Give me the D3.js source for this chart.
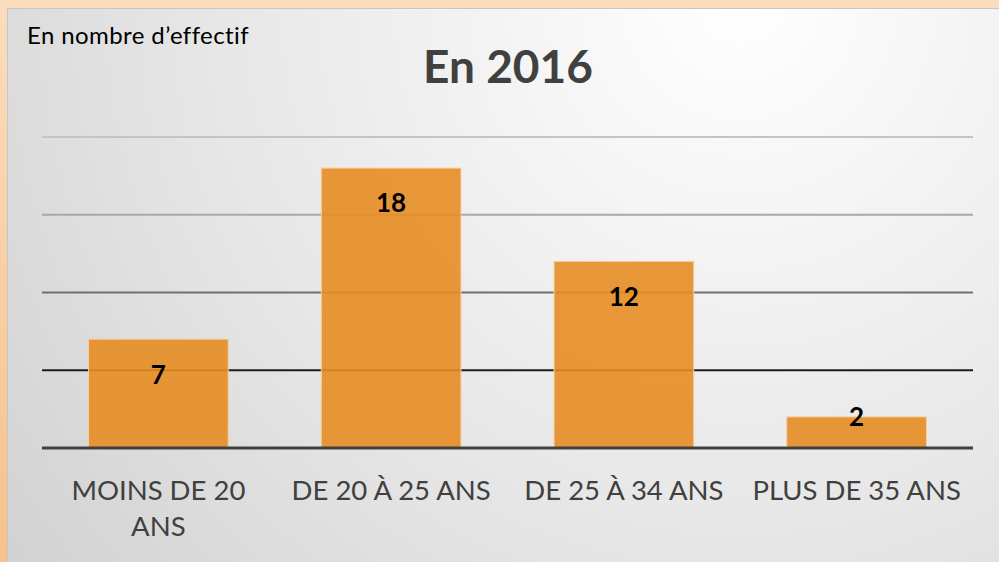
<!DOCTYPE html>
<html lang="fr">
<head>
<meta charset="utf-8">
<style>
  body { margin: 0; background: #fbdcbd; }
  svg { display: block; font-family: Lato, "Open Sans", sans-serif; font-variant-ligatures: none; }
</style>
</head>
<body>
<svg width="999" height="562"></svg>
<script src="https://cdn.jsdelivr.net/npm/d3@7"></script>
<script>
// data
var categories = ["MOINS DE 20 ANS", "DE 20 À 25 ANS", "DE 25 À 34 ANS", "PLUS DE 35 ANS"];
var effectifs = [7, 18, 12, 2];
var yTicks = [0, 5, 10, 15, 20];
var gridColors = ["#404040", "#1c1c1c", "#707070", "#a9a9a9", "#c4c4c4"];

var svg = d3.select("svg"),
    width = +svg.attr("width"),
    height = +svg.attr("height");

var defs = svg.append("defs");
var bg = defs.append("radialGradient")
    .attr("id", "bg")
    .attr("gradientUnits", "userSpaceOnUse")
    .attr("cx", 740).attr("cy", 0).attr("r", 900);
bg.append("stop").attr("offset", "0%").attr("stop-color", "#ffffff");
bg.append("stop").attr("offset", "60%").attr("stop-color", "#e6e6e6");
bg.append("stop").attr("offset", "100%").attr("stop-color", "#d3d3d3");

var side = defs.append("linearGradient")
    .attr("id", "side").attr("x1", 0).attr("y1", 0).attr("x2", 0).attr("y2", 1);
side.append("stop").attr("offset", "0%").attr("stop-color", "#fbdcbd");
side.append("stop").attr("offset", "100%").attr("stop-color", "#f6c28b");

// peach frame
svg.append("rect").attr("x", 0).attr("y", 0).attr("width", width).attr("height", 8).attr("fill", "#fbdcbd");
svg.append("rect").attr("x", 0).attr("y", 0).attr("width", 7).attr("height", height).attr("fill", "url(#side)");

svg.append("rect")
    .attr("x", 7.5).attr("y", 8.5)
    .attr("width", width).attr("height", height)
    .attr("fill", "url(#bg)")
    .attr("stroke", "#c6c6c6");

var x = d3.scaleBand()
    .domain(categories)
    .range([42, 973])
    .paddingInner(0.4)
    .paddingOuter(0.2);

var y = d3.scaleLinear()
    .domain([0, 20])
    .range([448, 137]);

// gridlines
svg.append("g").selectAll("line")
    .data(yTicks.slice(1))
    .enter().append("line")
    .attr("x1", 42).attr("x2", 973)
    .attr("y1", function (d) { return y(d); })
    .attr("y2", function (d) { return y(d); })
    .attr("stroke", function (d, i) { return gridColors[i + 1]; })
    .attr("stroke-width", 2);

// bars
svg.append("g").selectAll("rect")
    .data(effectifs)
    .enter().append("rect")
    .attr("x", function (d, i) { return x(categories[i]); })
    .attr("y", function (d) { return y(d); })
    .attr("width", x.bandwidth())
    .attr("height", function (d) { return y(0) - y(d); })
    .attr("fill", "#e58c24")
    .attr("fill-opacity", 0.9)
    .attr("stroke", "#f6cfa3")
    .attr("stroke-width", 1);

// baseline
svg.append("line")
    .attr("x1", 42).attr("x2", 973)
    .attr("y1", y(0)).attr("y2", y(0))
    .attr("stroke", gridColors[0])
    .attr("stroke-width", 3);

// value labels
svg.append("g").selectAll("text")
    .data(effectifs)
    .enter().append("text")
    .attr("x", function (d, i) { return x(categories[i]) + x.bandwidth() / 2; })
    .attr("y", function (d) {
        var h = y(0) - y(d);
        return h > 70 ? y(d) + 35 : y(d);
    })
    .attr("dy", "0.36em")
    .attr("text-anchor", "middle")
    .attr("font-weight", "bold")
    .attr("font-size", "26px")
    .attr("fill", "#000")
    .text(function (d) { return d; });

// category labels (wrapped)
var xLab = svg.append("g").selectAll("text")
    .data(categories)
    .enter().append("text")
    .attr("x", function (d) { return x(d) + x.bandwidth() / 2; })
    .attr("y", 500)
    .attr("text-anchor", "middle")
    .attr("font-size", "27.5px")
    .attr("fill", "#404040")
    .text(function (d) { return d; });

xLab.each(function (d) {
    var t = d3.select(this), cx = +t.attr("x");
    if (this.getComputedTextLength() <= x.step() * 0.95) return;
    var words = d.split(" "), line = [], lines = [];
    t.text(null);
    var probe = t.append("tspan");
    words.forEach(function (w) {
        line.push(w);
        probe.text(line.join(" "));
        if (probe.node().getComputedTextLength() > x.step() * 0.95 && line.length > 1) {
            line.pop();
            lines.push(line.join(" "));
            line = [w];
        }
    });
    lines.push(line.join(" "));
    probe.remove();
    lines.forEach(function (l, k) {
        t.append("tspan").attr("x", cx).attr("dy", k ? 36 : 0).text(l);
    });
});

// title and unit
svg.append("text")
    .attr("x", 508).attr("y", 83)
    .attr("text-anchor", "middle")
    .attr("font-weight", "bold")
    .attr("font-size", "46px")
    .attr("fill", "#404040")
    .text("En 2016");

svg.append("text")
    .attr("x", 27).attr("y", 44)
    .attr("font-size", "24px")
    .attr("letter-spacing", "0.4px")
    .attr("fill", "#000")
    .text("En nombre d’effectif");
</script>
</body>
</html>
